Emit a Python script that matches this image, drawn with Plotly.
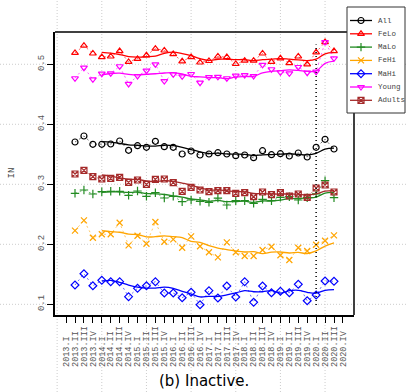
import plotly.graph_objects as go
import pandas as pd

# Tick labels (quarters) placed at positions 1..32
quarters = [
    "2013.I", "2013.II", "2013.III", "2013.IV",
    "2014.I", "2014.II", "2014.III", "2014.IV",
    "2015.I", "2015.II", "2015.III", "2015.IV",
    "2016.I", "2016.II", "2016.III", "2016.IV",
    "2017.I", "2017.II", "2017.III", "2017.IV",
    "2018.I", "2018.II", "2018.III", "2018.IV",
    "2019.I", "2019.II", "2019.III", "2019.IV",
    "2020.I", "2020.II", "2020.III", "2020.IV",
]
label_pos = list(range(1, 33))
data_x = label_pos[1:31]          # the 30 observations sit at positions 2..31
grid_x = [0, 5, 10, 15, 20, 25, 30]
grid_y = [0.1, 0.2, 0.3, 0.4, 0.5]
ytick_text = ["0.1", "0.2", "0.3", "0.4", "0.5"]
covid_x = 29                      # 2020.I marker line
covid_y = [0.099, 0.533]

all_ = [0.3705, 0.3805, 0.3667, 0.3667, 0.3672, 0.3722, 0.3567, 0.3643, 0.3617, 0.3717,
        0.3627, 0.3617, 0.3505, 0.3555, 0.3488, 0.3505, 0.3527, 0.3505, 0.3477, 0.3488,
        0.3443, 0.3560, 0.3493, 0.3510, 0.3472, 0.3522, 0.3455, 0.3617, 0.3750, 0.3588]
felo = [0.519, 0.531, 0.518, 0.512, 0.513, 0.522, 0.504, 0.509, 0.515, 0.526,
        0.523, 0.517, 0.505, 0.512, 0.503, 0.5055, 0.513, 0.512, 0.5005, 0.506,
        0.506, 0.518, 0.504, 0.510, 0.502, 0.513, 0.500, 0.520, 0.537, 0.522]
malo = [0.285, 0.2905, 0.2838, 0.2877, 0.2883, 0.2883, 0.2817, 0.2888, 0.280, 0.286,
        0.2772, 0.280, 0.271, 0.2738, 0.2717, 0.270, 0.277, 0.2655, 0.2727, 0.2727,
        0.2683, 0.275, 0.2727, 0.2783, 0.2793, 0.2738, 0.2777, 0.284, 0.306, 0.2777]
fehi = [0.2227, 0.240, 0.211, 0.2167, 0.2167, 0.236, 0.1983, 0.2143, 0.201, 0.2372,
        0.2043, 0.2083, 0.1943, 0.2133, 0.1967, 0.1867, 0.1783, 0.2033, 0.1867, 0.1805,
        0.1805, 0.1905, 0.196, 0.1817, 0.1738, 0.1943, 0.1888, 0.1993, 0.206, 0.215]
mahi = [0.1322, 0.151, 0.131, 0.140, 0.1377, 0.1377, 0.1127, 0.1267, 0.131, 0.1377,
        0.1188, 0.1188, 0.111, 0.120, 0.0993, 0.1227, 0.1105, 0.1305, 0.1122, 0.1377,
        0.1033, 0.1305, 0.1193, 0.1217, 0.1193, 0.1333, 0.106, 0.1155, 0.1388, 0.1383]
young = [0.4767, 0.4943, 0.475, 0.4843, 0.485, 0.4967, 0.4672, 0.4805, 0.4893, 0.500,
         0.472, 0.4833, 0.480, 0.4838, 0.4693, 0.4788, 0.479, 0.4767, 0.481, 0.482,
         0.4805, 0.499, 0.4917, 0.4867, 0.485, 0.4955, 0.486, 0.4877, 0.537, 0.510]
adults = [0.3172, 0.3233, 0.3127, 0.3088, 0.310, 0.3117, 0.3033, 0.3072, 0.300, 0.3083,
          0.3088, 0.3027, 0.2883, 0.295, 0.2905, 0.2877, 0.2893, 0.2893, 0.285, 0.286,
          0.2793, 0.2872, 0.2827, 0.286, 0.2805, 0.2838, 0.2783, 0.2938, 0.2988, 0.2872]

names = ["All", "FeLo", "MaLo", "FeHi", "MaHi", "Young", "Adults"]
values = [all_, felo, malo, fehi, mahi, young, adults]
colors = ["#000000", "#FF0000", "#228B22", "#FFA500", "#0000FF", "#FF00FF", "#A52A2A"]
symbols = ["circle-open", "triangle-up-open", "cross-thin-open", "x-thin-open",
           "diamond-open", "triangle-down-open", "square-x-open"]

MONO = "Liberation Mono"
W, H = 407, 392
PLOT = dict(left=55, right=354, top=32, bottom=315)      # page pixels
LEG = dict(left=347, right=405, top=7, bottom=113)        # page pixels
leg_rows = [20.5, 33.8, 47.1, 60.4, 73.7, 87.0, 100.3]
leg_line = (350, 372)
leg_mark_x = 361
leg_text_x = 376


def fx(X):
    return X / W


def fy(Y):
    return 1 - Y / H


fig = go.Figure()

for name, vals, color, sym in zip(names, values, colors, symbols):
    trend = pd.Series(vals).rolling(4).mean()
    fig.add_trace(go.Scatter(
        x=data_x, y=vals, mode="lines+markers", showlegend=False,
        line=dict(color=color, width=0.6, dash="2px,3px"),
        marker=dict(symbol=sym, size=6, color=color, line=dict(color=color, width=1.2)),
        hoverinfo="skip"))
    fig.add_trace(go.Scatter(
        x=data_x, y=trend, mode="lines", showlegend=False,
        line=dict(color=color, width=1.3, shape="spline"), hoverinfo="skip"))

# ---- compact legend drawn in its own small subplot (pixel units) ----
for yy, color, sym in zip(leg_rows, colors, symbols):
    fig.add_trace(go.Scatter(
        x=[leg_line[0], leg_mark_x, leg_line[1]], y=[yy, yy, yy],
        mode="lines", xaxis="x2", yaxis="y2", showlegend=False, hoverinfo="skip",
        line=dict(color=color, width=1.3)))
fig.add_trace(go.Scatter(
    x=[leg_mark_x] * len(names), y=leg_rows, mode="markers", xaxis="x2", yaxis="y2",
    showlegend=False, cliponaxis=False, hoverinfo="skip",
    marker=dict(symbol=symbols, size=6, color=colors, line=dict(color=colors, width=1.2))))

shapes = []
for gx in grid_x:
    shapes.append(dict(type="line", xref="x", yref="paper", x0=gx, x1=gx, y0=0, y1=1,
                       line=dict(color="#cccccc", width=1, dash="1px,2px"), layer="below"))
for gy in grid_y:
    shapes.append(dict(type="line", xref="paper", yref="y", x0=0, x1=1, y0=gy, y1=gy,
                       line=dict(color="#cccccc", width=1, dash="1px,2px"), layer="below"))
# top and right frame lines (the legend box sits over the corner)
shapes.append(dict(type="line", xref="paper", yref="paper",
                   x0=fx(PLOT["left"]), x1=fx(LEG["left"]),
                   y0=fy(PLOT["top"]), y1=fy(PLOT["top"]),
                   line=dict(color="black", width=1.5), layer="below"))
shapes.append(dict(type="line", xref="paper", yref="paper",
                   x0=fx(PLOT["right"]), x1=fx(PLOT["right"]),
                   y0=fy(PLOT["bottom"]), y1=fy(LEG["bottom"]),
                   line=dict(color="black", width=1.5), layer="below"))
shapes.append(dict(type="rect", xref="paper", yref="paper",
                   x0=fx(LEG["left"]), x1=fx(LEG["right"]),
                   y0=fy(LEG["bottom"]), y1=fy(LEG["top"]),
                   fillcolor="white", line=dict(color="#333333", width=1), layer="below"))
shapes.append(dict(type="line", xref="x", yref="y", x0=covid_x, x1=covid_x,
                   y0=covid_y[0], y1=covid_y[1],
                   line=dict(color="#000000", width=1.5, dash="1px,3px")))

annotations = [
    dict(text="IN", textangle=-90, xref="paper", yref="paper", x=fx(12),
         y=fy((PLOT["top"] + PLOT["bottom"]) / 2), xanchor="center", yanchor="middle",
         showarrow=False, font=dict(family=MONO, size=9, color="#444444")),
    dict(text="(b) Inactive.", xref="paper", yref="paper", x=fx(204.5), y=fy(381),
         xanchor="center", yanchor="middle",
         showarrow=False, font=dict(family="DejaVu Sans", size=15, color="black")),
]
for yy, name in zip(leg_rows, names):
    annotations.append(dict(text=name, xref="x2", yref="y2", x=leg_text_x, y=yy,
                            xanchor="left", yanchor="middle", showarrow=False,
                            font=dict(family=MONO, size=7.5, color="#444444")))

# pad labels so that they start at a common baseline (monospace, rotated)
lw = max(len(q) for q in quarters)
padded = [q + "\u00a0" * (lw - len(q)) for q in quarters]

fig.update_layout(
    template="none",
    width=W, height=H,
    margin=dict(l=0, r=0, t=0, b=0),
    paper_bgcolor="white", plot_bgcolor="rgba(0,0,0,0)",
    shapes=shapes, annotations=annotations, showlegend=False,
    xaxis=dict(domain=[fx(PLOT["left"]), fx(PLOT["right"])], automargin=False,
               range=[-0.24, 33.24], tickmode="array", tickvals=label_pos,
               ticktext=padded, tickangle=-90, showgrid=False, zeroline=False,
               showline=True, linecolor="black", linewidth=1.5,
               ticks="outside", ticklen=6, tickcolor="black", tickwidth=1,
               tickfont=dict(family=MONO, size=8.5, color="#555555")),
    yaxis=dict(domain=[fy(PLOT["bottom"]), fy(PLOT["top"])], automargin=False,
               range=[0.0822, 0.5538], tickmode="array", tickvals=grid_y,
               ticktext=ytick_text, tickangle=-90,
               showgrid=False, zeroline=False,
               showline=True, linecolor="black", linewidth=1.5,
               ticks="outside", ticklen=6, tickcolor="black", tickwidth=1,
               tickfont=dict(family=MONO, size=9, color="#555555")),
    xaxis2=dict(domain=[fx(LEG["left"]), fx(LEG["right"])], anchor="y2",
                range=[LEG["left"], LEG["right"]], visible=False, fixedrange=True,
                automargin=False),
    yaxis2=dict(domain=[fy(LEG["bottom"]), fy(LEG["top"])], anchor="x2",
                range=[LEG["bottom"], LEG["top"]], visible=False, fixedrange=True,
                automargin=False),
)

fig.write_html("out.html")
